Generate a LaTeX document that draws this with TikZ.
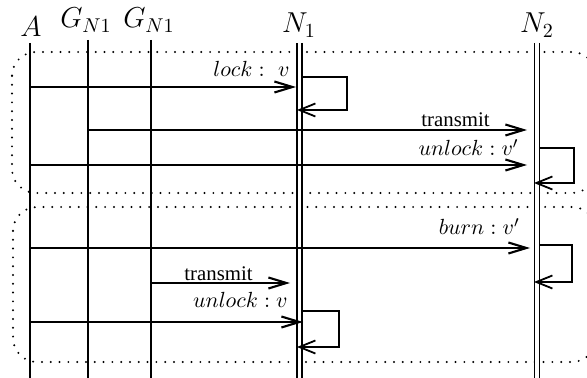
\documentclass[tikz,border=0pt]{standalone}
\usepackage{fontspec}
\newfontfamily\msgfont{Liberation Serif}
\usetikzlibrary{arrows.meta}

\begin{document}
\begin{tikzpicture}[x=0.5pt,y=-0.5pt,
  lifeline/.style={line width=1.1pt},
  dblline/.style={line width=0.9pt, double, double distance=1.6pt},
  msg/.style={line width=1.05pt, -{Straight Barb[length=9pt,width=5.5pt]}},
  selfloop/.style={line width=0.9pt, -{Straight Barb[length=8pt,width=6.5pt]}},
  frame/.style={line width=1.1pt, dash pattern=on 0pt off 4.4pt, line cap=round, rounded corners=12pt},
  head/.style={font=\fontsize{14}{16}\selectfont, anchor=base, inner sep=0pt},
  lbl/.style={font=\fontsize{11.3}{13}\selectfont, anchor=base east, inner sep=0pt},
  txt/.style={font=\msgfont\fontsize{10.4}{12}\selectfont, anchor=base east, inner sep=0pt},
]
\useasboundingbox (0,0) rectangle (587,378);

% participants
\node[head] (hA)  at (31,37)  {$A$};
\node[head] (hG1) at (86,28)  {$G_{N1}$};
\node[head] (hG2) at (149,28) {$G_{N1}$};
\node[head] (hN1) at (299,33) {$N_1$};
\node[head] (hN2) at (537,33) {$N_2$};

% lifeline ends
\coordinate (At)  at (30,43);    \coordinate (Ab)  at (30,380);
\coordinate (G1t) at (88,40);    \coordinate (G1b) at (88,380);
\coordinate (G2t) at (151,40);   \coordinate (G2b) at (151,380);
\coordinate (N1t) at (299.5,43); \coordinate (N1b) at (299.5,380);
\coordinate (N2t) at (537,43);   \coordinate (N2b) at (537,380);

% phase frames
\draw[frame] (12,52) rectangle (596,193);
\draw[frame] (13,207) rectangle (596,362);

% lifelines
\draw[lifeline] (At) -- (Ab);
\draw[lifeline] (G1t) -- (G1b);
\draw[lifeline] (G2t) -- (G2b);
\draw[dblline] (N1t) -- (N1b);
\draw[dblline] (N2t) -- (N2b);

% first phase
\coordinate (m1s) at (30,87);   \coordinate (m1e) at (296,87);
\draw[msg] (m1s) -- (m1e);
\node[lbl] (m1l) at (290,77) {$lock:\ v$};

\coordinate (s1a) at (302,77);  \coordinate (s1b) at (347,77);
\coordinate (s1c) at (347,110); \coordinate (s1d) at (297,110);
\draw[selfloop] (s1a) -- (s1b) -- (s1c) -- (s1d);

\coordinate (m2s) at (88,130);  \coordinate (m2e) at (527,130);
\draw[msg] (m2s) -- (m2e);
\node[txt] (m2l) at (490,127) {transmit};

\coordinate (m3s) at (30,165);  \coordinate (m3e) at (527,165);
\draw[msg] (m3s) -- (m3e);
\node[lbl] (m3l) at (519,156) {$unlock:v'$};

\coordinate (s2a) at (539,148); \coordinate (s2b) at (574,148);
\coordinate (s2c) at (574,183); \coordinate (s2d) at (534,183);
\draw[selfloop] (s2a) -- (s2b) -- (s2c) -- (s2d);

% second phase
\coordinate (m4s) at (30,248);  \coordinate (m4e) at (530,248);
\draw[msg] (m4s) -- (m4e);
\node[lbl] (m4l) at (520,235) {$burn:v'$};

\coordinate (s3a) at (539,245); \coordinate (s3b) at (572,245);
\coordinate (s3c) at (572,282); \coordinate (s3d) at (534,282);
\draw[selfloop] (s3a) -- (s3b) -- (s3c) -- (s3d);

\coordinate (m5s) at (151,283); \coordinate (m5e) at (290,283);
\draw[msg] (m5s) -- (m5e);
\node[txt] (m5l) at (253,281) {transmit};

\coordinate (m6s) at (30,322);  \coordinate (m6e) at (303,322);
\draw[msg] (m6s) -- (m6e);
\node[lbl] (m6l) at (288,307) {$unlock:v$};

\coordinate (s4a) at (302,311); \coordinate (s4b) at (339,311);
\coordinate (s4c) at (339,347); \coordinate (s4d) at (297,347);
\draw[selfloop] (s4a) -- (s4b) -- (s4c) -- (s4d);
\end{tikzpicture}
\end{document}
